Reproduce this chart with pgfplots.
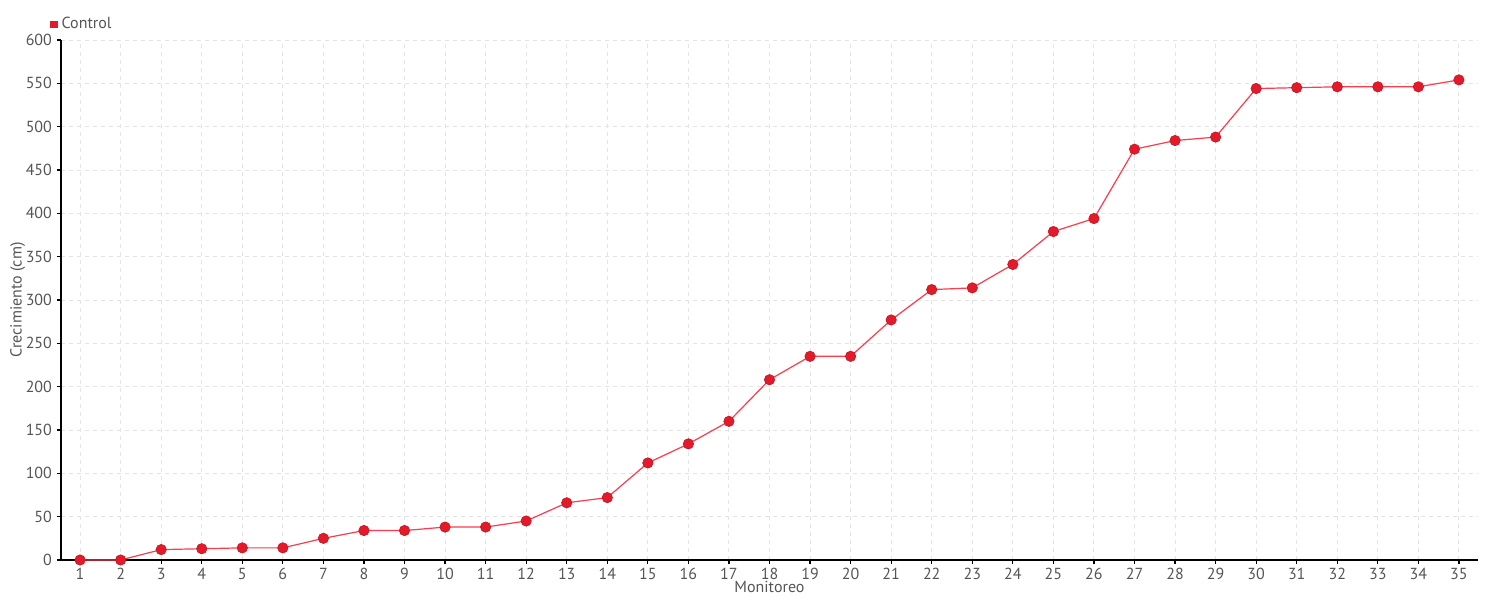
\documentclass[border=0pt]{standalone}
\usepackage{fontspec}
\setmainfont{PT Sans}
\usepackage{pgfplots}
\pgfplotsset{compat=1.18}
\definecolor{txt}{HTML}{555555}
\definecolor{mk}{HTML}{E31A2A}
\definecolor{ln}{HTML}{FF3B4E}
\definecolor{gr}{HTML}{E4E4E4}
\begin{document}
\begin{tikzpicture}
\useasboundingbox (-30.5pt,-20pt) rectangle (719.5pt,280pt);
\begin{axis}[
  at={(0,0)}, anchor=south west,
  scale only axis, width=708.5pt, height=260pt,
  xmin=0.53, xmax=35.47, ymin=0, ymax=600,
  xtick={1,...,35}, ytick={0,50,...,600},
  axis x line*=bottom, axis y line*=left,
  axis line style={black, line width=0.7pt, -},
  tick align=outside, major tick length=2pt,
  tick style={black, line width=0.6pt},
  grid=major, major grid style={gr, dash pattern=on 2pt off 2pt, line width=0.5pt},
  font=\fontsize{8}{9.5}\selectfont,
  ticklabel style={txt},
  /pgf/number format/assume math mode=true,
  yticklabel style={xshift=1pt},
  xticklabel style={yshift=1.5pt},
  xlabel={Monitoreo}, ylabel={Crecimiento (cm)},
  xlabel style={txt, yshift=6pt},
  ylabel style={txt, yshift=-6.5pt},
  legend style={at={(0,1)}, anchor=south west, xshift=-5.5pt, yshift=2pt, draw=none, fill=none, font=\fontsize{8}{9.5}\selectfont\color{txt}, inner sep=0pt},
  legend image code/.code={\fill[mk] (0pt,-1.5pt) rectangle (3pt,1.5pt);},
  legend cell align=left,
]
\addplot[ln, line width=0.6pt, mark=*, mark size=2.6pt, mark options={fill=mk, draw=mk!85!black, line width=0.3pt}] coordinates {
(1,0)(2,0)(3,12)(4,13)(5,14)(6,14)(7,25)(8,34)(9,34)(10,38)
(11,38)(12,45)(13,66)(14,72)(15,112)(16,134)(17,160)(18,208)(19,235)(20,235)
(21,277)(22,312)(23,314)(24,341)(25,379)(26,394)(27,474)(28,484)(29,488)(30,544)
(31,545)(32,546)(33,546)(34,546)(35,554)};
\addlegendentry{Control}
\end{axis}
\end{tikzpicture}
\end{document}
